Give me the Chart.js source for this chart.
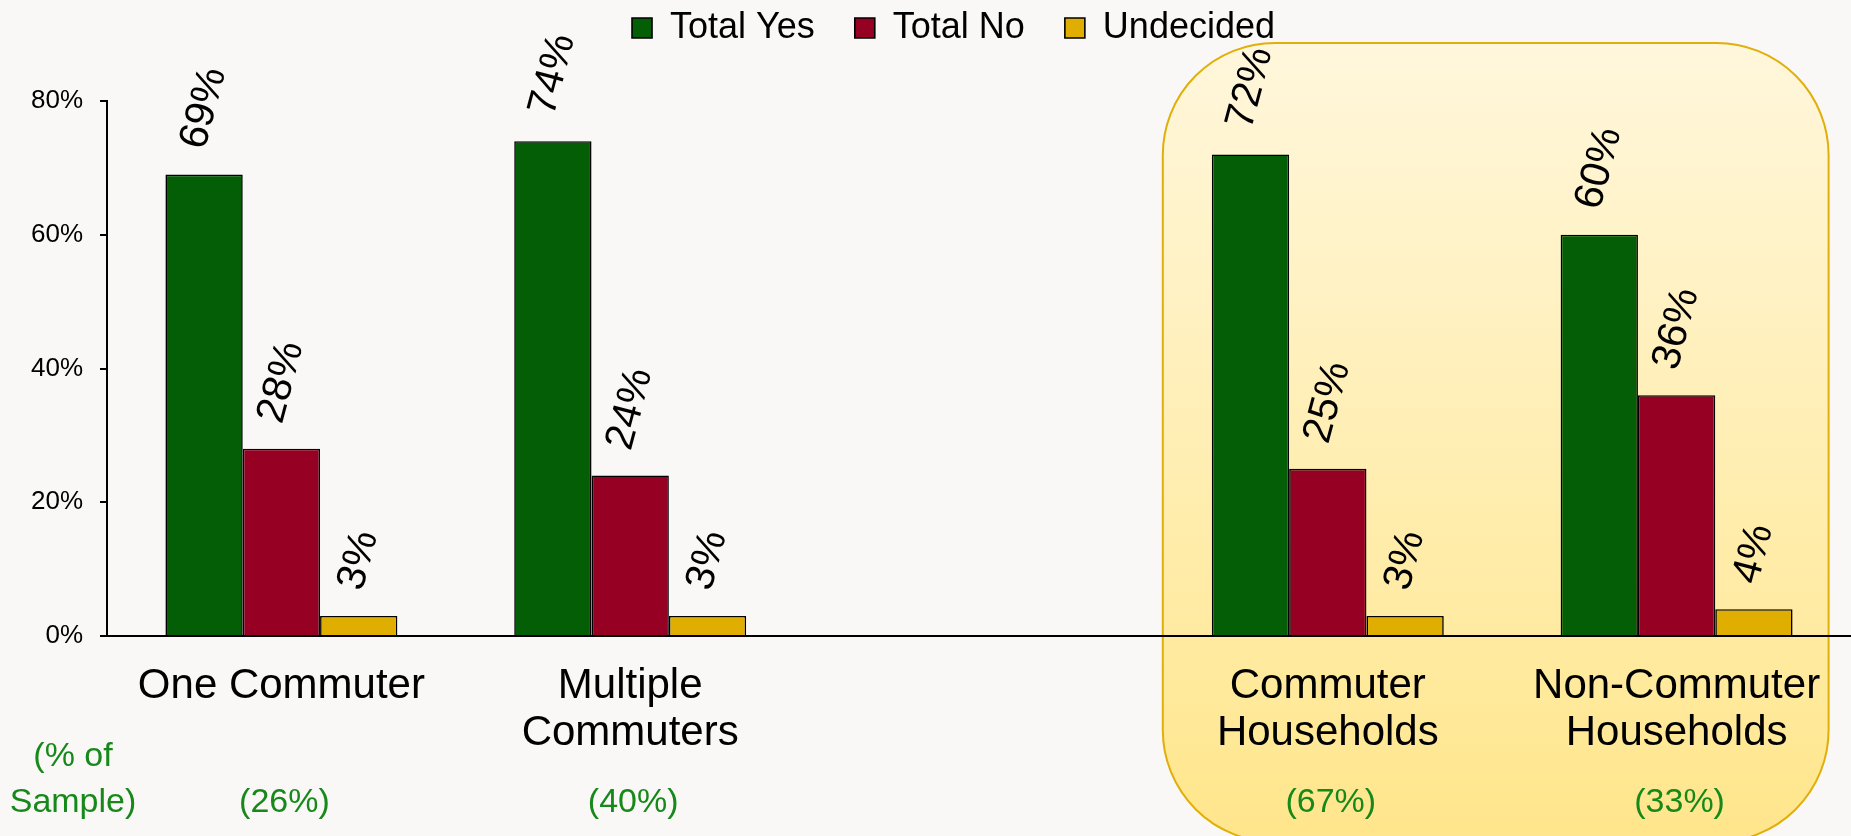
<!DOCTYPE html>
<html>
<head>
<meta charset="utf-8">
<script src="https://cdn.jsdelivr.net/npm/chart.js@4.4.1/dist/chart.umd.min.js"></script>
<style>
  html, body { margin: 0; padding: 0; background: #f9f8f6; overflow: hidden; }
  #wrap { width: 1851px; height: 836px; position: relative; }
</style>
</head>
<body>
<div id="wrap"><canvas id="chart"></canvas></div>
<script>
// chart values
const categories = ['One Commuter', ['Multiple', 'Commuters'], '', ['Commuter', 'Households'], ['Non-Commuter', 'Households']];
const totalYes = [69, 74, null, 72, 60];
const totalNo = [28, 24, null, 25, 36];
const undecided = [3, 3, null, 3, 4];
const sampleShares = ['(26%)', '(40%)', '', '(67%)', '(33%)'];
const sampleTitle = ['(% of', 'Sample)'];
const yTicks = [0, 20, 40, 60, 80];

const FONT = "'Liberation Sans', Arial, sans-serif";
const GREEN_TEXT = '#17891a';

// page background + highlighted box behind the last two groups
const backdrop = {
  id: 'backdrop',
  beforeDraw(chart) {
    const ctx = chart.ctx;
    ctx.save();
    ctx.fillStyle = '#f9f8f6';
    ctx.fillRect(0, 0, chart.width, chart.height);

    const x = chart.scales.x;
    const left = x.getPixelForValue(3) - 165;
    const right = x.getPixelForValue(4) + 152;
    const top = 43, bottom = 842, r = 112;
    const grad = ctx.createLinearGradient(0, top, 0, bottom);
    grad.addColorStop(0, '#fff7dc');
    grad.addColorStop(1, '#ffe68c');
    ctx.beginPath();
    ctx.roundRect(left, top, right - left, bottom - top, r);
    ctx.fillStyle = grad;
    ctx.fill();
    ctx.lineWidth = 2;
    ctx.strokeStyle = '#e0af0a';
    ctx.stroke();
    ctx.restore();
  }
};

// rotated value labels above each bar, sample shares under the categories
const annotations = {
  id: 'annotations',
  afterDatasetsDraw(chart) {
    const ctx = chart.ctx;
    const ang = 75 * Math.PI / 180;
    ctx.save();
    ctx.font = '41px ' + FONT;
    ctx.fillStyle = '#000';
    ctx.textAlign = 'center';
    ctx.textBaseline = 'middle';
    chart.data.datasets.forEach((ds, i) => {
      chart.getDatasetMeta(i).data.forEach((bar, j) => {
        const v = ds.data[j];
        if (v === null) return;
        const txt = v + '%';
        const w = ctx.measureText(txt).width;
        const half = (w * Math.sin(ang) + 29 * Math.cos(ang)) / 2;
        ctx.save();
        ctx.translate(bar.x, bar.y - 23 - half);
        ctx.rotate(-ang);
        ctx.fillText(txt, 0, 0);
        ctx.restore();
      });
    });

    const x = chart.scales.x;
    ctx.font = '34px ' + FONT;
    ctx.fillStyle = GREEN_TEXT;
    sampleShares.forEach((s, i) => {
      if (s) ctx.fillText(s, x.getPixelForValue(i) + 3, 803);
    });
    ctx.fillText(sampleTitle[0], 73, 757);
    ctx.fillText(sampleTitle[1], 73, 803);
    ctx.restore();
  }
};

// leave room between legend and plot, and nudge the legend right
const legendGap = {
  id: 'legendGap',
  afterInit(chart) {
    const lg = chart.legend;
    const fit = lg.fit;
    lg.fit = function () { fit.call(this); this.height += 45; };
  },
  afterLayout(chart) {
    chart.legend.left += 56;
  }
};

const ctx = document.getElementById('chart').getContext('2d');
const chart = new Chart(ctx, {
  type: 'bar',
  data: {
    labels: categories,
    datasets: [
      { label: 'Total Yes', data: totalYes, backgroundColor: '#035e06' },
      { label: 'Total No', data: totalNo, backgroundColor: '#960023' },
      { label: 'Undecided', data: undecided, backgroundColor: '#e0ae00' },
    ],
  },
  options: {
    responsive: true,
    maintainAspectRatio: false,
    animation: false,
    datasets: {
      bar: {
        borderColor: '#000',
        borderWidth: 1.6,
        categoryPercentage: 0.665,
        barPercentage: 1.0,
      },
    },
    layout: { padding: 0 },
    plugins: {
      tooltip: { enabled: false },
      legend: {
        position: 'top',
        labels: {
          font: { size: 36, family: FONT },
          color: '#000',
          boxWidth: 20,
          boxHeight: 20,
          padding: 10,
          generateLabels(chart) {
            const items = Chart.defaults.plugins.legend.labels.generateLabels(chart);
            items.forEach((it, i) => { if (i < items.length - 1) it.text += '   '; });
            return items;
          },
        },
      },
    },
    scales: {
      x: {
        grid: { display: false, drawTicks: false },
        border: { display: true, color: '#000', width: 2 },
        ticks: {
          autoSkip: false,
          maxRotation: 0,
          color: '#000',
          padding: 27,
          font: { size: 42, family: FONT, lineHeight: 1.12 },
        },
        afterFit(scale) { scale.height = 200; },
      },
      y: {
        min: 0,
        max: 80,
        afterBuildTicks(scale) { scale.ticks = yTicks.map(v => ({ value: v })); },
        grid: { display: true, drawOnChartArea: false, drawTicks: true, tickLength: 7, color: '#000', lineWidth: 2 },
        border: { display: true, color: '#000', width: 2 },
        ticks: {
          color: '#000',
          padding: 17,
          font: { size: 26, family: FONT },
          callback: v => v + '%',
        },
        afterFit(scale) { scale.width = 107; },
      },
    },
  },
  plugins: [backdrop, annotations, legendGap],
});
</script>
</body>
</html>
